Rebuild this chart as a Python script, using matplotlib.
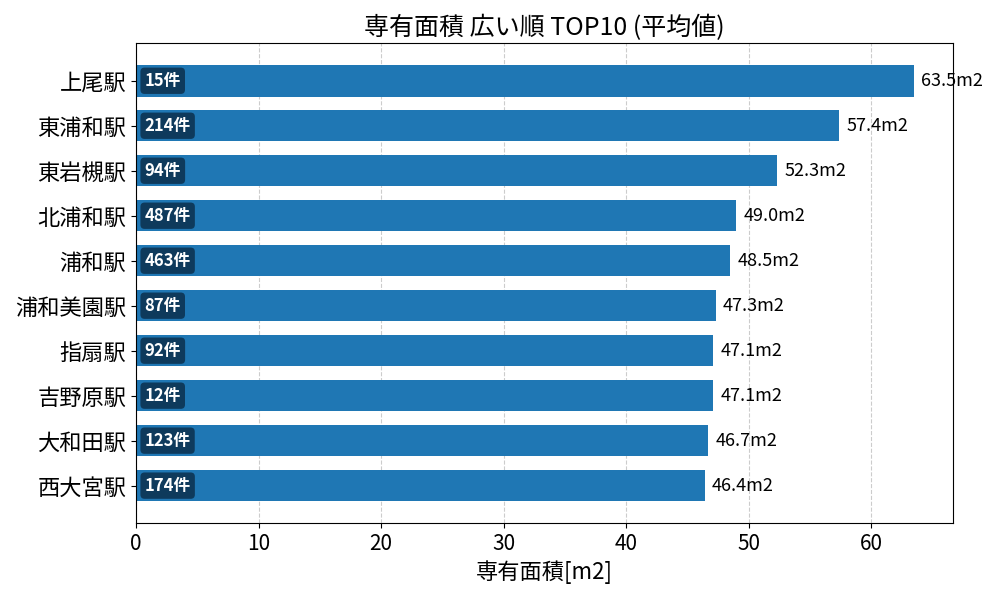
import matplotlib
matplotlib.use("Agg")
import matplotlib.pyplot as plt

plt.rcParams['font.family'] = ['Noto Sans CJK JP', 'DejaVu Sans']

stations = ["上尾駅", "東浦和駅", "東岩槻駅", "北浦和駅", "浦和駅", "浦和美園駅", "指扇駅", "吉野原駅", "大和田駅", "西大宮駅"]
areas = [63.5, 57.4, 52.3, 49.0, 48.5, 47.3, 47.1, 47.1, 46.7, 46.4]
counts = [15, 214, 94, 487, 463, 87, 92, 12, 123, 174]

fig = plt.figure(figsize=(10, 6), dpi=100)
ax = fig.add_axes([0.136, 0.128, 0.817, 0.800])

y = list(range(len(stations)))
ax.barh(y, areas, height=0.7, color='#1f77b4', zorder=2)
ax.set_yticks(y)
ax.set_yticklabels(stations, fontsize=16)
ax.invert_yaxis()
ax.set_xlim(0, max(areas) * 1.05)
ax.tick_params(axis='x', labelsize=15)
ax.set_xlabel("専有面積[m2]", fontsize=16)
ax.set_title("専有面積 広い順 TOP10 (平均値)", fontsize=18)
ax.grid(axis='x', linestyle='--', color='#cccccc', zorder=0)
ax.set_axisbelow(True)

for yi, a, c in zip(y, areas, counts):
    ax.text(a + 0.6, yi, f"{a:.1f}m2", va='center', ha='left', fontsize=13, zorder=3)
    ax.text(0.7, yi, f"{c}件", va='center', ha='left', fontsize=12, fontweight='bold',
            color='white', zorder=4,
            bbox=dict(boxstyle='round,pad=0.25', facecolor='#0e3a5c', edgecolor='none'))

fig.savefig("out.png", dpi=100)
